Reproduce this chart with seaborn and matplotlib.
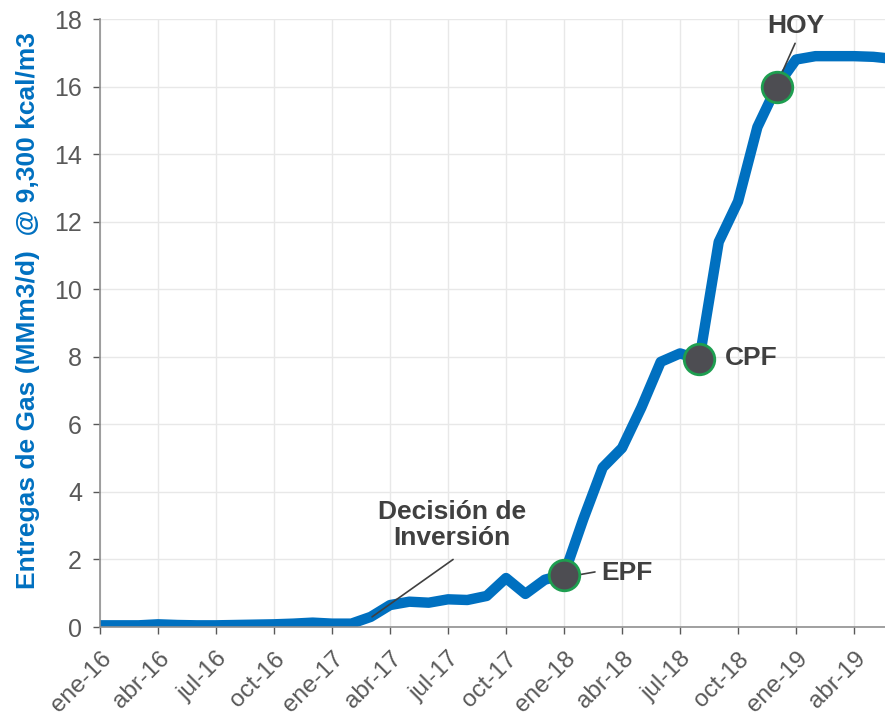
import numpy as np
import pandas as pd
import matplotlib
matplotlib.use("Agg")
import matplotlib.pyplot as plt
import seaborn as sns

# monthly deliveries, ene-16 .. jun-19
months = ["ene-16", "feb-16", "mar-16", "abr-16", "may-16", "jun-16", "jul-16", "ago-16", "sep-16",
          "oct-16", "nov-16", "dic-16", "ene-17", "feb-17", "mar-17", "abr-17", "may-17", "jun-17",
          "jul-17", "ago-17", "sep-17", "oct-17", "nov-17", "dic-17", "ene-18", "feb-18", "mar-18",
          "abr-18", "may-18", "jun-18", "jul-18", "ago-18", "sep-18", "oct-18", "nov-18", "dic-18",
          "ene-19", "feb-19", "mar-19", "abr-19", "may-19", "jun-19"]
gas = [0.05, 0.05, 0.05, 0.08, 0.06, 0.05, 0.05, 0.06, 0.07,
       0.08, 0.10, 0.13, 0.10, 0.10, 0.30, 0.65, 0.75, 0.72,
       0.82, 0.80, 0.92, 1.45, 0.98, 1.40, 1.55, 3.20, 4.72,
       5.30, 6.50, 7.85, 8.10, 7.92, 11.40, 12.60, 14.80, 16.00,
       16.80, 16.90, 16.90, 16.90, 16.88, 16.82]

milestones = ["EPF", "CPF", "HOY"]
milestone_months = ["ene-18", "ago-18", "dic-18"]

df = pd.DataFrame({"mes": np.arange(len(months)), "gas": gas})
pos = {m: i for i, m in enumerate(months)}

sns.set_theme(style="whitegrid")
plt.rcParams["font.family"] = ["Liberation Sans", "DejaVu Sans"]

fig = plt.figure(figsize=(8.85, 7.17), dpi=100)
ax = fig.add_axes([0.113, 0.1255, 0.887, 0.848])

blue = "#0070C0"
txt = "#404040"
sns.lineplot(data=df, x="mes", y="gas", ax=ax, color=blue, linewidth=7.5,
             solid_joinstyle="round", solid_capstyle="butt")

mx = [pos[m] for m in milestone_months]
my = [gas[pos[m]] for m in milestone_months]
ax.plot(mx, my, "o", markersize=22, markerfacecolor="#4d4d52",
        markeredgecolor="#1e9e50", markeredgewidth=2, zorder=5)

ax.set_xlim(0, 40.6)
ax.set_ylim(0, 18)
ax.set_yticks(range(0, 19, 2))
ax.set_xticks(range(0, 41, 3))
ax.set_xticklabels(months[0:41:3], rotation=45, ha="right", rotation_mode="anchor")
ax.tick_params(axis="y", labelsize=18, colors="#595959", length=5, width=1, left=True, pad=8)
ax.tick_params(axis="x", labelsize=17.5, colors="#595959", length=5, width=1, bottom=True, pad=10)
for lab in ax.get_xticklabels() + ax.get_yticklabels():
    lab.set_color("#595959")

ax.grid(True, color="#e8e8e8", linewidth=1)
for s in ["top", "right"]:
    ax.spines[s].set_visible(False)
for s in ["left", "bottom"]:
    ax.spines[s].set_color("#909090")
    ax.spines[s].set_linewidth(1.2)

ax.set_xlabel("")
ax.set_ylabel("Entregas de Gas (MMm3/d)  @ 9,300 kcal/m3", color=blue,
              fontsize=19, fontweight="bold")
ax.yaxis.set_label_coords(-0.077, 0.52)

# annotations
fs = 19
leader = dict(arrowstyle="-", color=txt, lw=1.2, shrinkA=0, shrinkB=0)
ax.text(18.2, 3.02, "Decisión de\nInversión", ha="center", va="center", fontsize=fs,
        fontweight="bold", color=txt, linespacing=1.1)
ax.annotate("", xy=(14.07, 0.3), xytext=(18.26, 2.0), arrowprops=leader)

ax.annotate("", xy=(pos["ene-18"] + 0.8, 1.55), xytext=(25.6, 1.63), arrowprops=leader)
ax.text(25.95, 1.6, "EPF", ha="left", va="center", fontsize=fs, fontweight="bold", color=txt)

ax.text(pos["ago-18"] + 1.3, 7.95, "CPF", ha="left", va="center",
        fontsize=fs, fontweight="bold", color=txt)

ax.annotate("", xy=(35.28, 16.42), xytext=(35.95, 17.28), arrowprops=leader)
ax.text(36.0, 17.8, "HOY", ha="center", va="center", fontsize=fs, fontweight="bold", color=txt)

fig.savefig("out.png", dpi=100)
